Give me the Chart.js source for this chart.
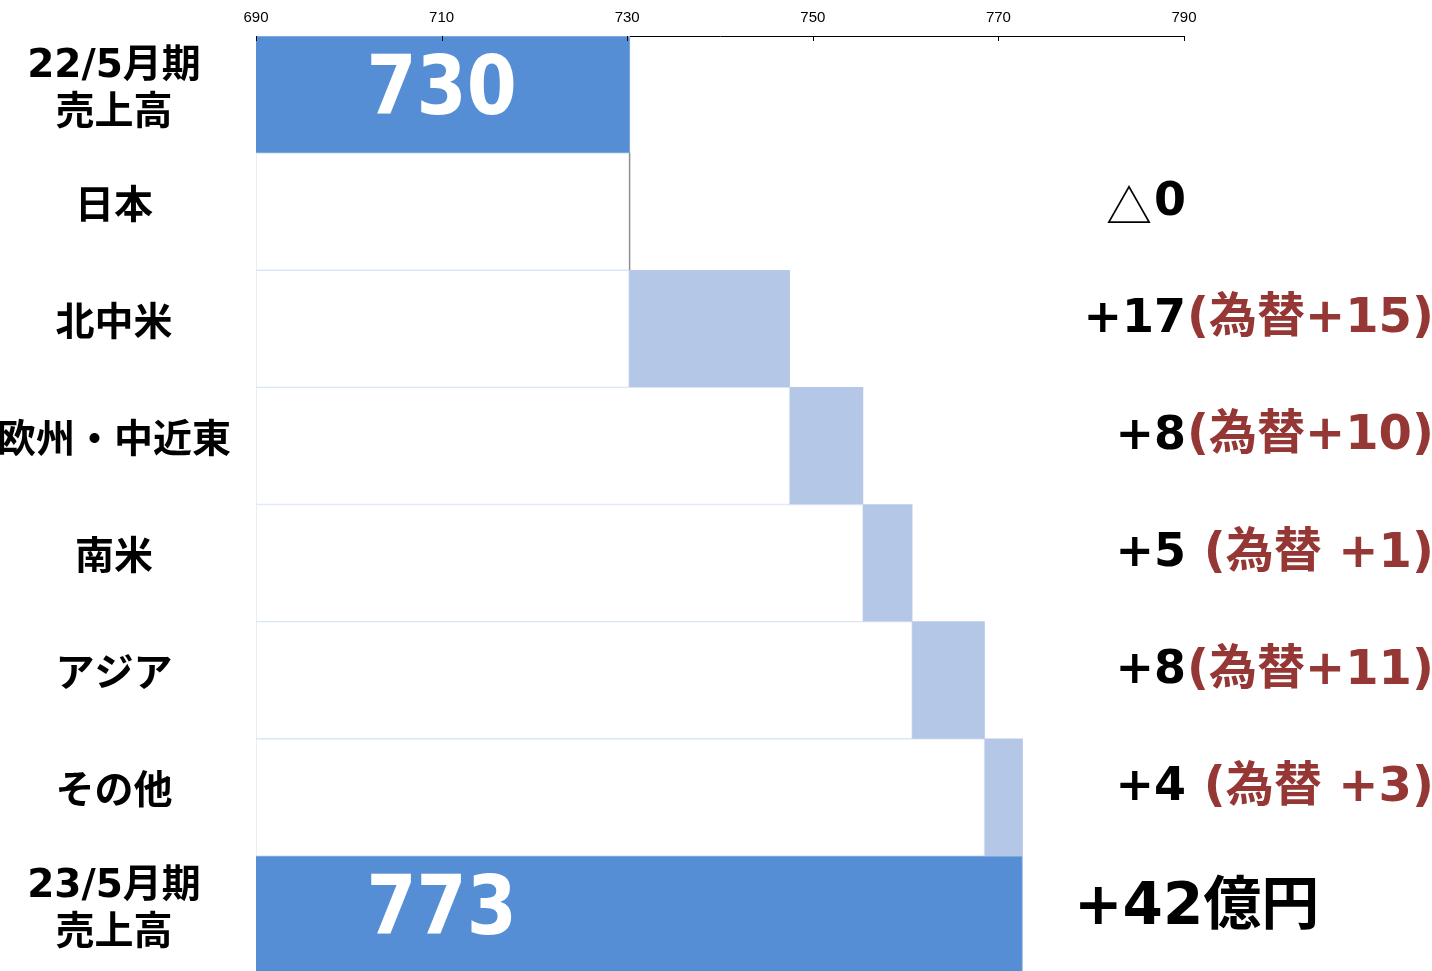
<!DOCTYPE html>
<html lang="ja">
<head>
<meta charset="utf-8">
<title>売上高 増減要因</title>
<script src="https://cdn.jsdelivr.net/npm/chart.js@4.4.1/dist/chart.umd.min.js"></script>
<style>
  html, body { margin: 0; padding: 0; background: #fff; overflow: hidden; }
  #wrap { width: 1432px; height: 973px; }
</style>
</head>
<body>
<div id="wrap"><canvas id="bridge" width="1432" height="973"></canvas></div>
<script>
// Sales bridge 22/5 -> 23/5 by region (億円), FX share shown in red
const categories = [['22/5月期', '売上高'], '日本', '北中米', '欧州・中近東', '南米', 'アジア', 'その他', ['23/5月期', '売上高']];
const openingSales = 730.3;
const regionDeltas = [-0.1, 17.3, 7.9, 5.3, 7.8, 4.1];
const fxEffects = [null, 15, 10, 1, 11, 3];
const xTicks = [690, 710, 730, 750, 770, 790];

const FONT = "'DejaVu Sans', 'Noto Sans CJK JP', sans-serif";
const TOTAL_BLUE = '#558ED5';
const STEP_BLUE = '#B4C7E7';
const DOWN_GREY = '#7f7f7f';
const FX_RED = '#953735';
const X_MIN = xTicks[0], X_MAX = xTicks[xTicks.length - 1];
const TOTAL_LABEL_AT = 710;

// floating bars: white spacer up to the step, the step itself, and the two totals
const closingSales = regionDeltas.reduce((s, d) => s + d, openingSales);
const spacer = [null], steps = [null], totals = [[X_MIN, openingSales]];
let run = openingSales;
regionDeltas.forEach(d => {
  spacer.push([X_MIN, Math.min(run, run + d)]);
  steps.push([run, run + d]);
  totals.push(null);
  run += d;
});
spacer.push(null); steps.push(null); totals.push([X_MIN, closingSales]);

const fmtFx = n => n < 10 ? ` (為替 +${n})` : `(為替+${n})`;

const tickMarks = {
  id: 'tickMarks',
  afterDraw(chart) {
    const { ctx, chartArea, scales: { x } } = chart;
    ctx.save();
    ctx.strokeStyle = '#000';
    ctx.lineWidth = 1;
    x.ticks.forEach(t => {
      const px = Math.round(x.getPixelForValue(t.value)) + 0.5;
      ctx.beginPath();
      ctx.moveTo(px, chartArea.top);
      ctx.lineTo(px, chartArea.top + 5);
      ctx.stroke();
    });
    ctx.restore();
  }
};

const annotations = {
  id: 'annotations',
  afterDatasetsDraw(chart) {
    const { ctx, scales: { x, y } } = chart;
    ctx.save();
    ctx.textBaseline = 'middle';

    // totals written inside the dark bars (digits drawn a little taller than wide)
    ctx.fillStyle = '#fff';
    ctx.textAlign = 'center';
    ctx.font = `bold 72px ${FONT}`;
    [[0, openingSales], [categories.length - 1, closingSales]].forEach(([i, v]) => {
      ctx.save();
      ctx.translate(x.getPixelForValue(TOTAL_LABEL_AT), y.getPixelForValue(i) - 2);
      ctx.scale(1, 1.14);
      ctx.fillText(String(Math.round(v)), 0, 0);
      ctx.restore();
    });

    // per-region change to the right of the plot, FX part in red
    const edge = x.right + 2;
    regionDeltas.forEach((d, k) => {
      const cy = y.getPixelForValue(k + 1) - 9;
      const body = (d < 0 ? '' : '+') + Math.abs(Math.round(d));
      ctx.fillStyle = '#000';
      ctx.textAlign = 'right';
      ctx.font = `bold 46px ${FONT}`;
      ctx.fillText(body, edge, cy);
      if (d < 0) {
        const w = ctx.measureText(body).width;
        ctx.font = "46px 'Noto Sans CJK JP'";
        ctx.fillText('△', edge - w - 2, cy + 3);
      }
      if (fxEffects[k] != null) {
        ctx.textAlign = 'left';
        ctx.fillStyle = FX_RED;
        ctx.font = `bold 48px ${FONT}`;
        ctx.fillText(fmtFx(fxEffects[k]), edge + 1, cy);
      }
    });

    // overall change
    ctx.fillStyle = '#000';
    ctx.textAlign = 'left';
    ctx.font = `bold 58px ${FONT}`;
    const gain = Math.round(closingSales - openingSales);
    ctx.fillText(`+${gain}億円`, x.right - 110, y.getPixelForValue(categories.length - 1) - 6);
    ctx.restore();
  }
};

new Chart(document.getElementById('bridge'), {
  type: 'bar',
  data: {
    labels: categories,
    datasets: [
      {
        data: spacer,
        backgroundColor: '#fff',
        borderColor: '#DCE6F2',
        borderWidth: 1,
        borderSkipped: false
      },
      {
        data: steps,
        backgroundColor: ctx => regionDeltas[ctx.dataIndex - 1] < 0 ? DOWN_GREY : STEP_BLUE,
        borderWidth: 0
      },
      {
        data: totals,
        backgroundColor: TOTAL_BLUE,
        borderColor: '#8EB4E3',
        borderWidth: 1,
        borderSkipped: 'start'
      }
    ]
  },
  options: {
    indexAxis: 'y',
    responsive: false,
    animation: false,
    layout: { padding: { right: 248 } },
    datasets: { bar: { grouped: false, categoryPercentage: 1, barPercentage: 1 } },
    plugins: { legend: { display: false }, tooltip: { enabled: false } },
    scales: {
      x: {
        type: 'linear',
        position: 'top',
        min: X_MIN,
        max: X_MAX,
        afterBuildTicks: s => { s.ticks = xTicks.map(v => ({ value: v })); },
        afterFit: s => { s.height = 36; s.paddingLeft = 0; s.paddingRight = 0; },
        grid: { display: false, drawTicks: false },
        border: { display: true, color: '#000', width: 1 },
        ticks: { color: '#000', padding: 9, font: { family: "'Liberation Sans', Arial, sans-serif", size: 15 } }
      },
      y: {
        // labels on the first and last rows may overflow; keep the plot flush with the edges
        afterFit: s => { s.width = 256; s.paddingTop = 0; s.paddingBottom = 0; },
        grid: { display: false, drawTicks: false },
        border: { display: false },
        ticks: {
          color: '#000',
          crossAlign: 'center',
          padding: 25,
          labelOffset: -4,
          font: { family: FONT, size: 39, weight: 'bold', lineHeight: 1.2 }
        }
      }
    }
  },
  plugins: [tickMarks, annotations]
});
</script>
</body>
</html>
